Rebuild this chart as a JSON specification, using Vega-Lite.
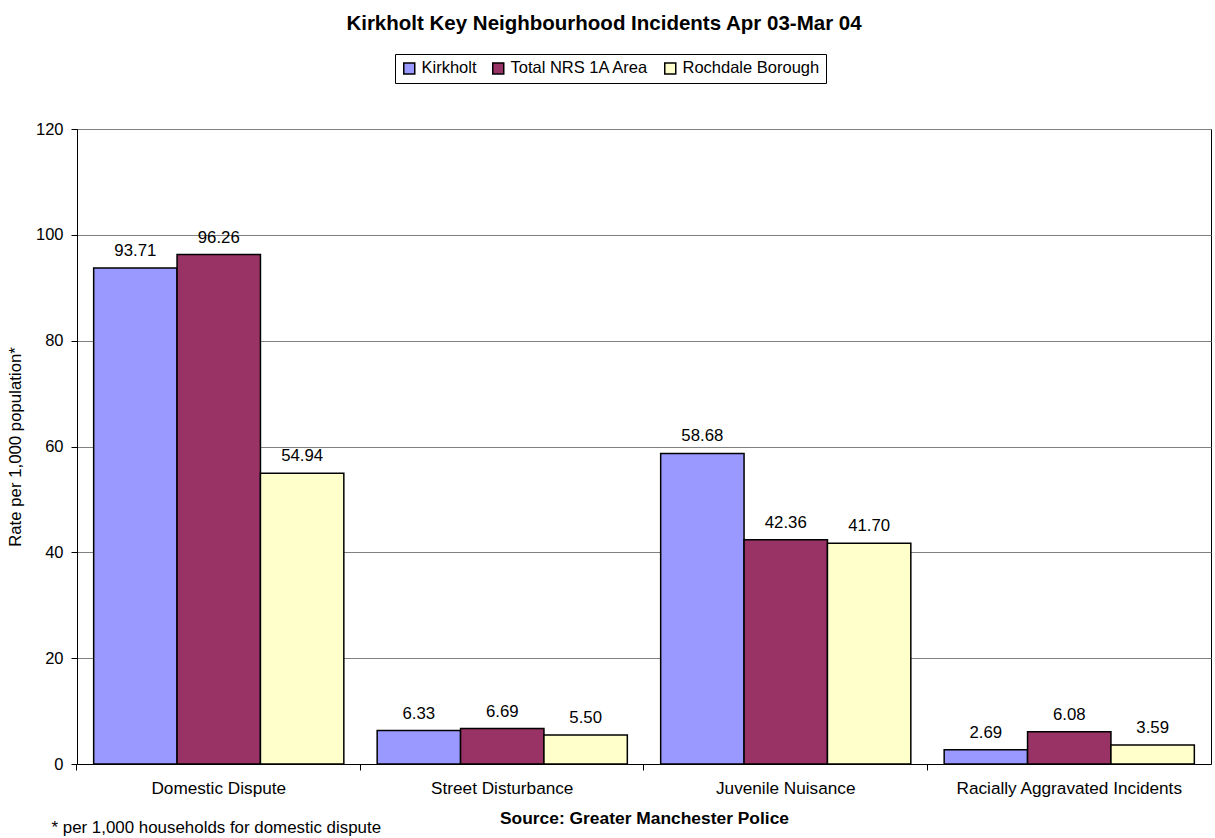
{
  "$schema": "https://vega.github.io/schema/vega-lite/v6.json",
  "width": 1134,
  "height": 635,
  "autosize": {"type": "none"},
  "padding": {"left": 77, "top": 129, "right": 4, "bottom": 74},
  "background": "white",
  "config": {
    "font": "Liberation Sans",
    "view": {"stroke": "#000000", "strokeWidth": 1}
  },
  "title": {
    "text": "Kirkholt Key Neighbourhood Incidents Apr 03-Mar 04",
    "font": "Liberation Sans",
    "fontSize": 20.5,
    "fontWeight": "bold",
    "color": "#000000",
    "anchor": "middle",
    "frame": "group",
    "baseline": "alphabetic",
    "dx": -40,
    "offset": 3
  },
  "data": {
    "values": [
      {"category": "Domestic Dispute", "series": "Kirkholt", "value": 93.71},
      {"category": "Domestic Dispute", "series": "Total NRS 1A Area", "value": 96.26},
      {"category": "Domestic Dispute", "series": "Rochdale Borough", "value": 54.94},
      {"category": "Street Disturbance", "series": "Kirkholt", "value": 6.33},
      {"category": "Street Disturbance", "series": "Total NRS 1A Area", "value": 6.69},
      {"category": "Street Disturbance", "series": "Rochdale Borough", "value": 5.50},
      {"category": "Juvenile Nuisance", "series": "Kirkholt", "value": 58.68},
      {"category": "Juvenile Nuisance", "series": "Total NRS 1A Area", "value": 42.36},
      {"category": "Juvenile Nuisance", "series": "Rochdale Borough", "value": 41.70},
      {"category": "Racially Aggravated Incidents", "series": "Kirkholt", "value": 2.69},
      {"category": "Racially Aggravated Incidents", "series": "Total NRS 1A Area", "value": 6.08},
      {"category": "Racially Aggravated Incidents", "series": "Rochdale Borough", "value": 3.59}
    ]
  },
  "layer": [
    {
      "mark": {"type": "bar", "stroke": "#000000", "strokeWidth": 1.5},
      "encoding": {
        "x": {
          "field": "category",
          "type": "nominal",
          "sort": null,
          "scale": {"paddingInner": 0.1176, "paddingOuter": 0.0588},
          "axis": {
            "orient": "bottom",
            "title": "Source: Greater Manchester Police",
            "titleFont": "Liberation Sans",
            "titleFontSize": 17.4,
            "titleFontWeight": "bold",
            "titleColor": "#000000",
            "titlePadding": 13,
            "labelAngle": 0,
            "labelFont": "Liberation Sans",
            "labelFontSize": 17.2,
            "labelColor": "#000000",
            "labelPadding": 9,
            "labelLimit": 400,
            "bandPosition": -0.0667,
            "tickSize": 6,
            "tickColor": "#000000",
            "domainColor": "#000000",
            "grid": false
          }
        },
        "xOffset": {
          "field": "series",
          "type": "nominal",
          "scale": {"domain": ["Kirkholt", "Total NRS 1A Area", "Rochdale Borough"], "paddingInner": 0, "paddingOuter": 0}
        },
        "y": {
          "field": "value",
          "type": "quantitative",
          "scale": {"domain": [0, 120], "nice": false},
          "axis": {
            "title": "Rate per 1,000 population*",
            "titleFont": "Liberation Sans",
            "titleFontSize": 16.8,
            "titleFontWeight": "normal",
            "titleColor": "#000000",
            "titlePadding": 11,
            "values": [0, 20, 40, 60, 80, 100, 120],
            "labelFont": "Liberation Sans",
            "labelFontSize": 16.5,
            "labelColor": "#000000",
            "labelPadding": 8,
            "tickSize": 6,
            "tickColor": "#000000",
            "domainColor": "#000000",
            "gridColor": "#808080",
            "gridWidth": 1,
            "gridOpacity": 1
          }
        },
        "fill": {
          "field": "series",
          "type": "nominal",
          "scale": {
            "domain": ["Kirkholt", "Total NRS 1A Area", "Rochdale Borough"],
            "range": ["#9999FF", "#993366", "#FFFFCC"]
          },
          "legend": {
            "title": null,
            "orient": "none",
            "direction": "horizontal",
            "legendX": 318,
            "legendY": -75,
            "padding": 6,
            "strokeColor": "#000000",
            "fillColor": "#FFFFFF",
            "symbolType": "square",
            "symbolSize": 121,
            "symbolStrokeColor": "#000000",
            "symbolStrokeWidth": 1.5,
            "symbolOpacity": 1,
            "labelFont": "Liberation Sans",
            "labelFontSize": 16.5,
            "labelColor": "#000000",
            "labelOffset": 4,
            "columnPadding": 12,
            "labelLimit": 300
          }
        }
      }
    },
    {
      "mark": {"type": "text", "baseline": "alphabetic", "dy": -12, "fontSize": 16.8, "font": "Liberation Sans", "color": "#000000"},
      "encoding": {
        "x": {
          "field": "category",
          "type": "nominal",
          "sort": null,
          "axis": {
            "orient": "bottom",
            "title": "* per 1,000 households for domestic dispute",
            "titleFont": "Liberation Sans",
            "titleFontSize": 16.9,
            "titleFontWeight": "normal",
            "titleColor": "#000000",
            "titleAnchor": "start",
            "titleAlign": "left",
            "titleBaseline": "alphabetic",
            "titleX": -26,
            "titleY": 68,
            "labels": false,
            "ticks": false,
            "domain": false,
            "grid": false
          }
        },
        "xOffset": {
          "field": "series",
          "type": "nominal",
          "scale": {"domain": ["Kirkholt", "Total NRS 1A Area", "Rochdale Borough"]}
        },
        "y": {"field": "value", "type": "quantitative"},
        "text": {"field": "value", "type": "quantitative", "format": ".2f"}
      }
    }
  ],
  "resolve": {"axis": {"x": "independent"}}
}
